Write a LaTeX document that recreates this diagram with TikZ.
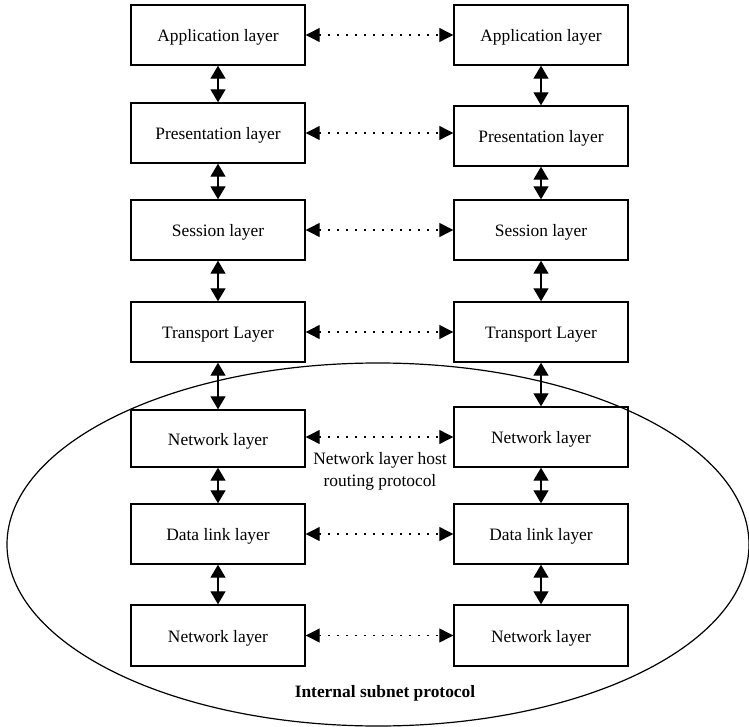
\documentclass[tikz,border=0pt]{standalone}
\usepackage{fontspec}
\setmainfont{Liberation Serif}
\usetikzlibrary{arrows.meta}
\begin{document}
\begin{tikzpicture}[x=1pt,y=-1pt,
  layerbox/.style={draw,line width=1.4pt,minimum width=174pt,inner sep=0pt,
    text height=13pt,text depth=0pt,
    font=\fontsize{17.4}{21}\selectfont},
  vlink/.style={line width=1.3pt,{Triangle[length=13pt,width=15pt]}-{Triangle[length=13pt,width=15pt]}},
  hlink/.style={line width=1.2pt,dash pattern=on 1.2pt off 7.8pt,
    {Triangle[length=14pt,width=14pt]}-{Triangle[length=14pt,width=14pt]}},
  lbl/.style={font=\fontsize{17.4}{22}\selectfont,align=center,inner sep=0pt}]
\useasboundingbox (0,0) rectangle (749,727);
% subnet ellipse
\draw[line width=1.2pt] (378,544.5) ellipse [x radius=371, y radius=181.5];
% left column
\node[layerbox,minimum height=60pt] (l1) at (218,35) {Application layer};
\node[layerbox,minimum height=60pt] (l2) at (218,133) {Presentation layer};
\node[layerbox,minimum height=60pt] (l3) at (218,230) {Session layer};
\node[layerbox,minimum height=60pt] (l4) at (218,332) {Transport Layer};
\node[layerbox,minimum height=57pt] (l5) at (218,438.5) {Network layer};
\node[layerbox,minimum height=60pt] (l6) at (218,534) {Data link layer};
\node[layerbox,minimum height=61pt] (l7) at (218,635.5) {Network layer};
% right column
\node[layerbox,minimum height=60pt] (r1) at (541,35) {Application layer};
\node[layerbox,minimum height=60pt] (r2) at (541,136) {Presentation layer};
\node[layerbox,minimum height=60pt] (r3) at (541,230) {Session layer};
\node[layerbox,minimum height=60pt] (r4) at (541,332) {Transport Layer};
\node[layerbox,minimum height=60pt] (r5) at (541,437) {Network layer};
\node[layerbox,minimum height=60pt] (r6) at (541,534) {Data link layer};
\node[layerbox,minimum height=61pt] (r7) at (541,635.5) {Network layer};
% vertical links
\foreach \a/\b in {1/2,2/3,3/4,4/5,5/6,6/7}{
  \draw[vlink] (l\a.south) -- (l\b.north);
  \draw[vlink] (r\a.south) -- (r\b.north);
}
% peer links
\foreach \i in {1,2,3,4,6,7}{
  \draw[hlink] (l\i.east) -- (l\i.east -| r\i.west);
}
\draw[hlink] (r5.west -| l5.east) -- (r5.west);
% labels
\node[lbl] (hostlbl) at (380,471) {Network layer host\\routing protocol};
\node[lbl,font=\fontsize{17.4}{22}\selectfont\bfseries] (subnetlbl) at (385,693) {Internal subnet protocol};
\end{tikzpicture}
\end{document}
